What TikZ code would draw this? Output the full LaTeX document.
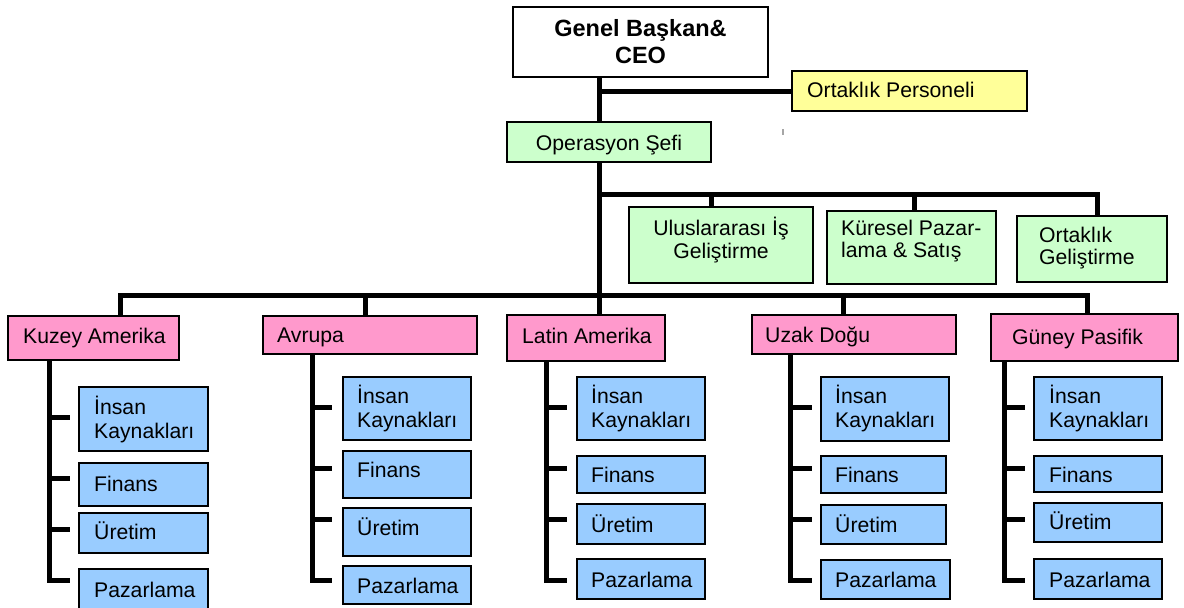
\documentclass[tikz,border=0pt]{standalone}
\usepackage{fontspec}
\setmainfont{Liberation Sans}
\usetikzlibrary{fit,calc}

\definecolor{pinkfill}{HTML}{FF99CC}
\definecolor{bluefill}{HTML}{99CCFF}
\definecolor{greenfill}{HTML}{CCFFCC}
\definecolor{yellowfill}{HTML}{FFFF99}

% two stacked lines, left aligned; the baseline is that of the first line
\newcommand\llines[3]{\vtop{\baselineskip=#1\hbox{#2}\hbox{#3}}}
% two stacked lines, centred in a box of the given width
\newcommand\clines[4]{\vtop{\baselineskip=#1\hbox to #2{\hfil#3\hfil}\hbox to #2{\hfil#4\hfil}}}

\tikzset{
  box/.style={rectangle, draw=black, line width=1.6pt, inner sep=0pt},
  whitebox/.style={box, fill=white},
  yellowbox/.style={box, fill=yellowfill},
  greenbox/.style={box, fill=greenfill},
  pinkbox/.style={box, fill=pinkfill},
  bluebox/.style={box, fill=bluefill},
  conn/.style={draw=black, line width=5pt, line join=miter},
  lbl/.style={anchor=base west, inner sep=0pt, text=black, font=\fontsize{21.2}{25}\selectfont},
}

% a department box: name, x1, y1, x2, y2, text x, text baseline, text
\newcommand\dept[8]{%
  \node[bluebox, fit={(#2,#3) (#4,#5)}] (#1) {};
  \node[lbl] at (#6,#7) {#8};}

% the spine under a region box: region, spine x, x where the ticks end, tick ys (last one is the foot)
\newcommand\spine[4]{%
  \coordinate (#1-s) at (#2,0);
  \foreach \ty [count=\i] in {#4} {\coordinate (#1-t\i) at (#3,\ty);}
  \draw[conn] (#1.south -| #1-s) -- (#1-s |- #1-t4) -- (#1-t4);
  \foreach \i in {1,2,3} {\draw[conn] (#1-s |- #1-t\i) -- (#1-t\i);}}

\begin{document}
\begin{tikzpicture}[x=1pt,y=-1pt]
\useasboundingbox (0,0) rectangle (1184,608);
\clip (0,0) rectangle (1184,608);
\fill[white] (0,0) rectangle (1184,608);

% top of the chart
\node[whitebox, fit={(513,7) (768,77)}] (ceo) {};
\node[lbl, anchor=base, font=\bfseries\fontsize{23.5}{27}\selectfont] at (640.5,36)
  {\clines{27pt}{240pt}{Genel Başkan\&}{CEO}};

\node[yellowbox, fit={(792,71) (1027,111)}] (yel) {};
\node[lbl] at (807,97) {Ortaklık Personeli};

\node[greenbox, fit={(507,122) (711,162)}] (op) {};
\node[lbl, anchor=base] at (609,150) {Operasyon Şefi};

\node[greenbox, fit={(629,207) (813,283)}] (ul) {};
\node[lbl, anchor=base] at (721,235) {\clines{23pt}{170pt}{Uluslararası İş}{Geliştirme}};
\node[greenbox, fit={(827,211) (996,284)}] (kp) {};
\node[lbl] at (841,235) {\llines{22pt}{Küresel Pazar-}{lama \& Satış}};
\node[greenbox, fit={(1017,216) (1167,282)}] (og) {};
\node[lbl] at (1039,242) {\llines{22pt}{Ortaklık}{Geliştirme}};

% stray mark right of the chief of operations
\coordinate (mk) at (783,129);
\draw[gray!70, line width=1.5pt] (mk) -- ++(0,6);

% regions
\node[pinkbox, fit={(8,316) (179,360)}] (kz) {};
\node[lbl] at (23,343) {Kuzey Amerika};
\node[pinkbox, fit={(263,316) (477,354)}] (av) {};
\node[lbl] at (277,342) {Avrupa};
\node[pinkbox, fit={(507,315) (665,361)}] (la) {};
\node[lbl] at (522,343) {Latin Amerika};
\node[pinkbox, fit={(752,315) (956,354)}] (uz) {};
\node[lbl] at (765,342) {Uzak Doğu};
\node[pinkbox, fit={(991,314) (1178,361)}] (gu) {};
\node[lbl] at (1012,344) {Güney Pasifik};

% departments of each region
\dept{kz1}{79}{387}{208}{451}{94}{414}{\llines{24.5pt}{İnsan}{Kaynakları}}
\dept{kz2}{79}{463}{208}{506}{94}{491}{Finans}
\dept{kz3}{79}{513}{208}{553}{94}{539}{Üretim}
\dept{kz4}{79}{569}{208}{620}{94}{597}{Pazarlama}

\dept{av1}{343}{377}{471}{440}{357}{403}{\llines{24.5pt}{İnsan}{Kaynakları}}
\dept{av2}{343}{451}{471}{498}{357}{477}{Finans}
\dept{av3}{343}{508}{471}{556}{357}{535}{Üretim}
\dept{av4}{343}{566}{471}{604}{357}{593}{Pazarlama}

\dept{la1}{577}{377}{705}{440}{591}{403}{\llines{24.5pt}{İnsan}{Kaynakları}}
\dept{la2}{577}{456}{705}{493}{591}{482}{Finans}
\dept{la3}{577}{504}{705}{544}{591}{532}{Üretim}
\dept{la4}{577}{559}{705}{599}{591}{587}{Pazarlama}

\dept{uz1}{821}{377}{949}{441}{835}{403}{\llines{24.5pt}{İnsan}{Kaynakları}}
\dept{uz2}{821}{456}{946}{493}{835}{482}{Finans}
\dept{uz3}{821}{505}{946}{544}{835}{532}{Üretim}
\dept{uz4}{821}{560}{950}{599}{835}{587}{Pazarlama}

\dept{gu1}{1034}{377}{1162}{440}{1049}{403}{\llines{24.5pt}{İnsan}{Kaynakları}}
\dept{gu2}{1034}{456}{1162}{492}{1049}{482}{Finans}
\dept{gu3}{1034}{503}{1162}{542}{1049}{529}{Üretim}
\dept{gu4}{1034}{559}{1162}{599}{1049}{587}{Pazarlama}

% main trunk
\coordinate (t) at (599,0);
\draw[conn] (ceo.south -| t) -- (op.north -| t);
\draw[conn] (yel.west -| t) -- (yel.west);
\draw[conn] (op.south -| t) -- (la.north -| t);

% staff functions under the chief of operations
\coordinate (ja) at (599,194.5);
\coordinate (ju) at (711,194.5);
\coordinate (jk) at (914.5,194.5);
\coordinate (jo) at (1097.5,194.5);
\draw[conn] (ja) -- (jo) -- (jo |- og.north);
\draw[conn] (ju) -- (ju |- ul.north);
\draw[conn] (jk) -- (jk |- kp.north);

% regional bar
\coordinate (hk) at (120.5,295.5);
\coordinate (ha) at (365,295.5);
\coordinate (hu) at (843.5,295.5);
\coordinate (hg) at (1087.5,295.5);
\draw[conn] (hk |- kz.north) -- (hk) -- (hg) -- (hg |- gu.north);
\draw[conn] (ha) -- (ha |- av.north);
\draw[conn] (hu) -- (hu |- uz.north);

% spines down to the departments
\spine{kz}{49.5}{70}{417,478,529,580}
\spine{av}{312}{332}{407,468,519,580}
\spine{la}{546.5}{567}{407,468,519,580}
\spine{uz}{790.5}{812}{407,468,519,580}
\spine{gu}{1004.5}{1025}{407,468,519,580}
\end{tikzpicture}
\end{document}
